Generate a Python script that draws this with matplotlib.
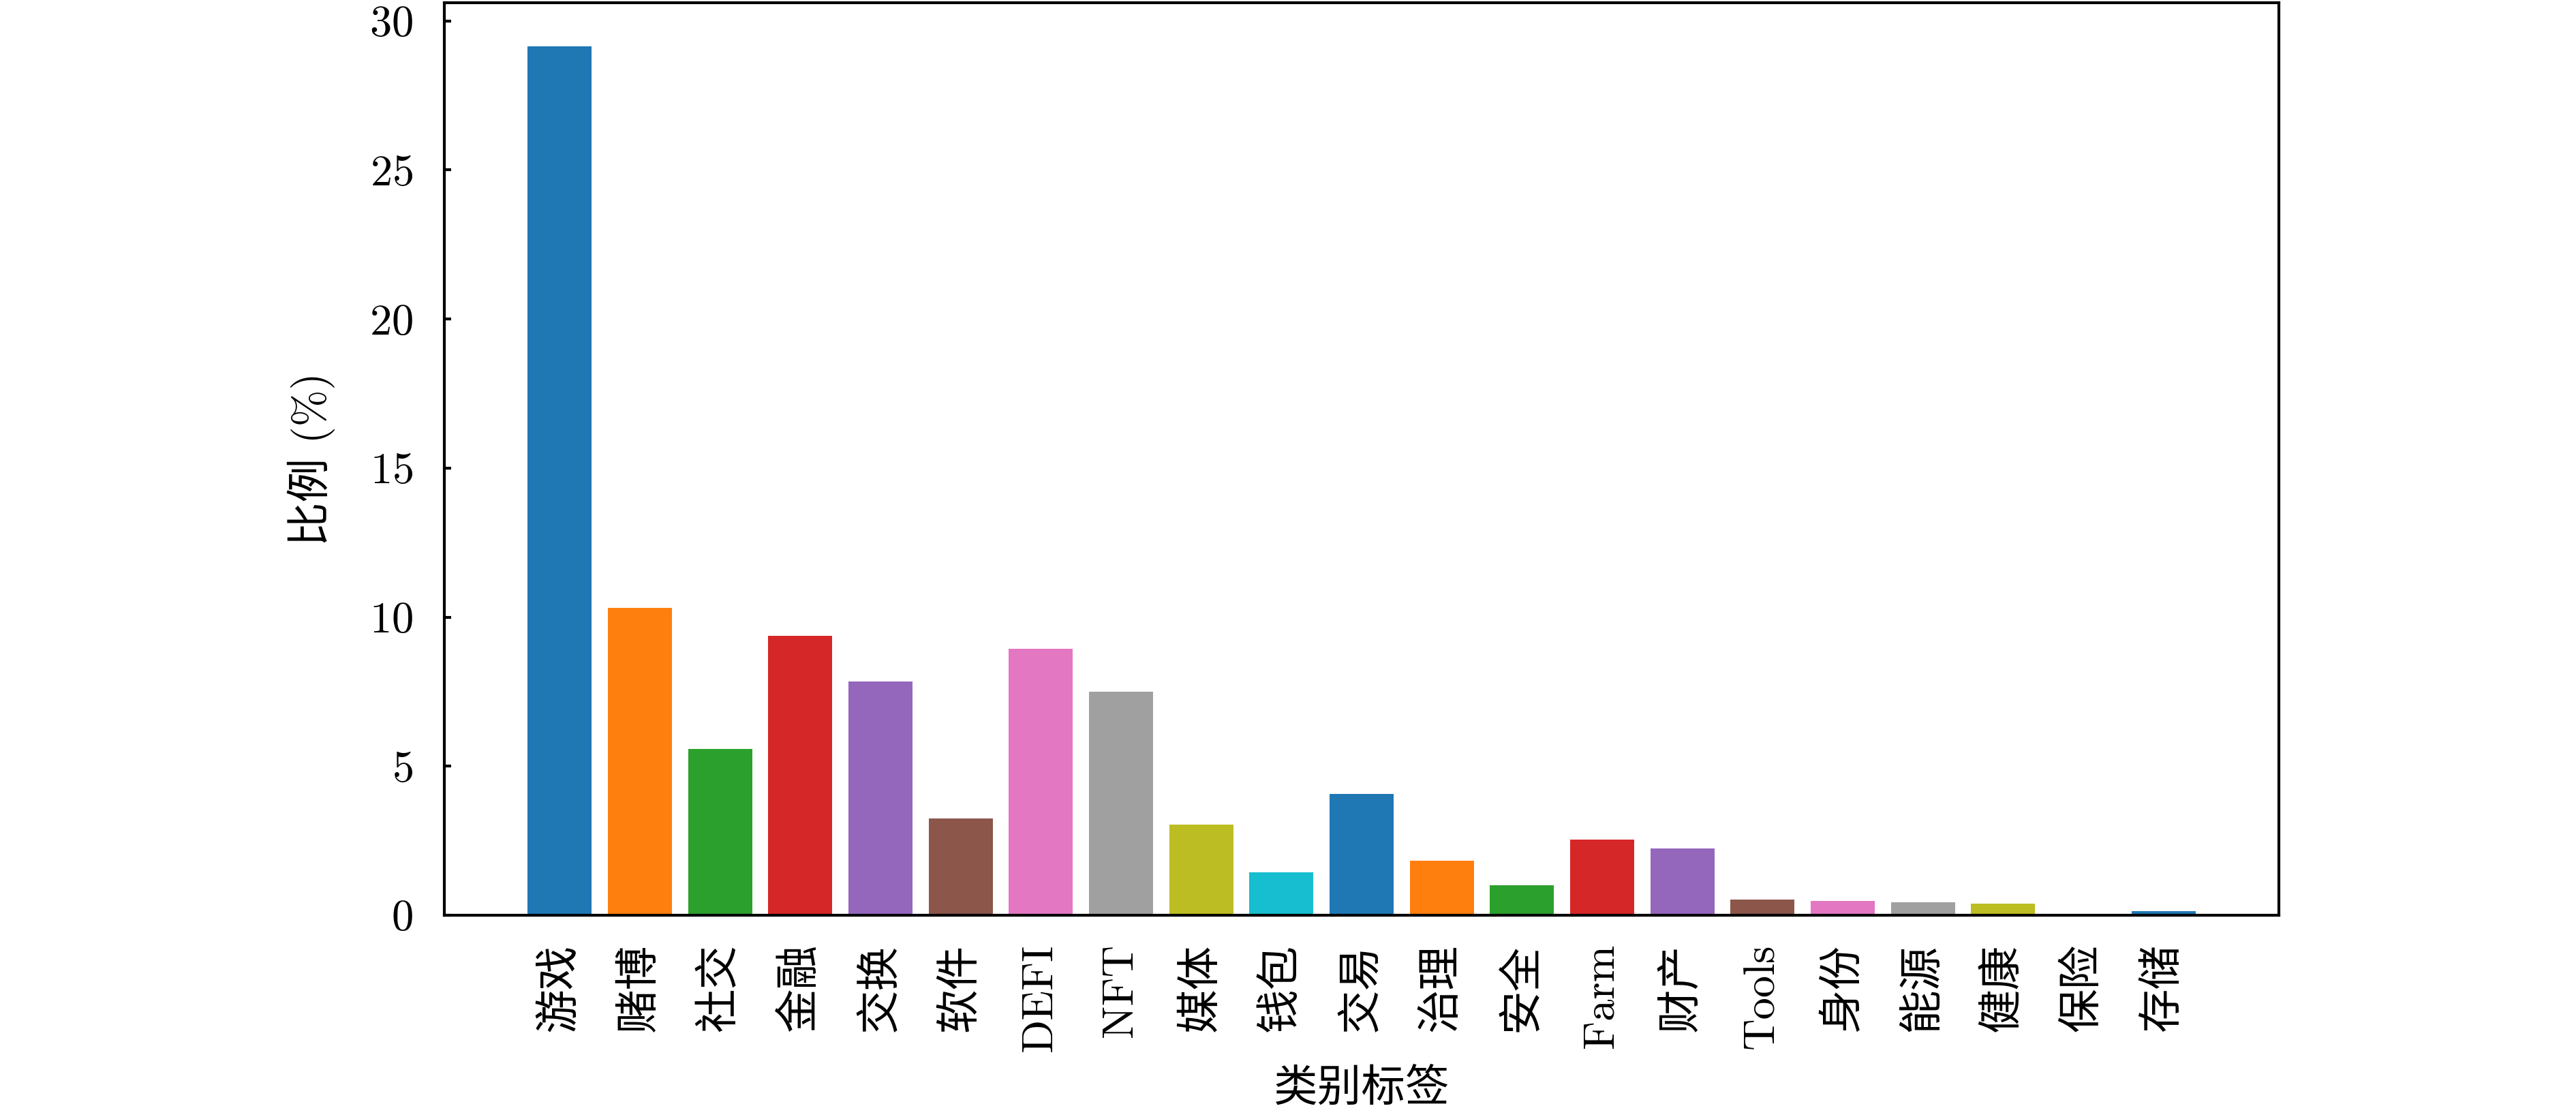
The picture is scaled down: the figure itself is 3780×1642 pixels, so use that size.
import matplotlib
matplotlib.use('Agg')
import matplotlib.pyplot as plt

# category labels and share (%)
categories = ['游戏', '赌博', '社交', '金融', '交换', '软件', 'DEFI', 'NFT', '媒体', '钱包',
              '交易', '治理', '安全', 'Farm', '财产', 'Tools', '身份', '能源', '健康', '保险', '存储']
shares = [29.15, 10.31, 5.57, 9.37, 7.83, 3.25, 8.94, 7.50, 3.04, 1.43,
          4.08, 1.82, 1.00, 2.54, 2.25, 0.52, 0.48, 0.43, 0.40, 0.05, 0.14]

plt.rcParams['font.family'] = ['cmr10', 'Noto Sans CJK SC', 'DejaVu Sans']
plt.rcParams['axes.formatter.use_mathtext'] = True
plt.rcParams['font.size'] = 15.5

fig = plt.figure(figsize=(12.6, 1642 / 300), dpi=300)
ax = fig.add_axes([652 / 3780, 1 - 1343 / 1642, (3344 - 652) / 3780, (1343 - 4) / 1642])

# tab10 cycle, the grey in the reference is a bit lighter
palette = list(plt.get_cmap('tab10').colors)
palette[7] = '#a0a0a0'
colors = [palette[i % 10] for i in range(len(categories))]
x = list(range(len(categories)))
ax.bar(x, shares, color=colors, width=0.8)

ax.set_xticks(x)
ax.set_xticklabels(categories, rotation=90)
ax.tick_params(axis='x', length=0, pad=10)
ax.tick_params(axis='y', direction='in', length=2.5, width=1.0, pad=11)
for s in ax.spines.values():
    s.set_linewidth(1.0)

ax.set_xlabel('类别标签', labelpad=6)
ax.set_ylabel('比例 (%)', labelpad=12)

fig.savefig('out.png', dpi=300)
